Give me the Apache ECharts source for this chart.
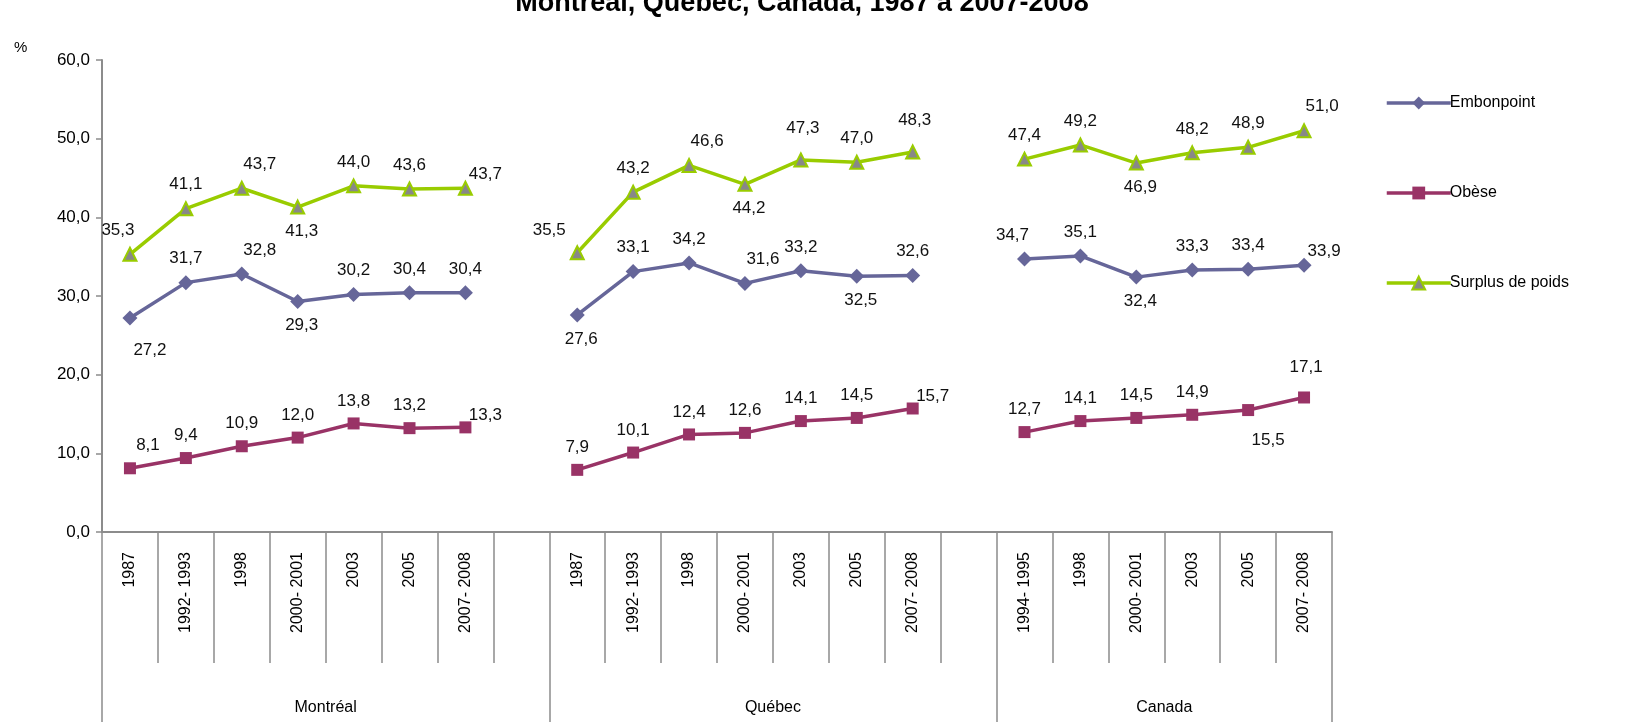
<!DOCTYPE html>
<html><head><meta charset="utf-8">
<script src="https://cdn.jsdelivr.net/npm/echarts@6/dist/echarts.min.js"></script>
<style>html,body{margin:0;padding:0;background:#fff}#c{width:1644px;height:722px}</style>
</head><body><div id="c"></div>
<script>
const categories = ['1987','1992- 1993','1998','2000- 2001','2003','2005','2007- 2008','',
  '1987','1992- 1993','1998','2000- 2001','2003','2005','2007- 2008','',
  '1994- 1995','1998','2000- 2001','2003','2005','2007- 2008'];
const groups = ['Montréal','Québec','Canada'];
const groupCenters = [4, 12, 19];
const groupBounds = [0, 8, 16, 22];
const yTicks = [0,10,20,30,40,50,60];

const embonpoint = [27.2,31.7,32.8,29.3,30.2,30.4,30.4,'-', 27.6,33.1,34.2,31.6,33.2,32.5,32.6,'-', 34.7,35.1,32.4,33.3,33.4,33.9];
const obese      = [8.1,9.4,10.9,12.0,13.8,13.2,13.3,'-', 7.9,10.1,12.4,12.6,14.1,14.5,15.7,'-', 12.7,14.1,14.5,14.9,15.5,17.1];
const surplus    = [35.3,41.1,43.7,41.3,44.0,43.6,43.7,'-', 35.5,43.2,46.6,44.2,47.3,47.0,48.3,'-', 47.4,49.2,46.9,48.2,48.9,51.0];

// label placement codes (style, separate from values)
const embLab = ['br','t','tr','b','t','t','t','', 'b','t','t','tr','t','b','t','', 'tl','t','b','t','t','r'];
const obeLab = ['tr','t','t','t','t','t','r','', 't','t','t','t','t','t','r','', 't','t','t','t','br','tt'];
const surLab = ['tl','t','tr','b','t','t','r','', 'tl2','t','tr','b','tt','t','tt','', 't','t','b','t','t','tr'];

const fmt = v => v.toFixed(1).replace('.', ',');
function labelFor(code){
  switch(code){
    case 't':  return {position:'top', offset:[0,0]};
    case 'tt': return {position:'top', offset:[2,-8]};
    case 'tr': return {position:'top', offset:[18,0]};
    case 'tl': return {position:'top', offset:[-12,0]};
    case 'tl2':return {position:'top', offset:[-28,2]};
    case 'b':  return {position:'bottom', offset:[4,0]};
    case 'br': return {position:'bottom', offset:[20,8]};
    case 'r':  return {position:'top', offset:[20,10]};
    default:   return {position:'top'};
  }
}
function build(vals, codes){
  return vals.map((v,i) => v === '-' ? '-' : {value:v, label:labelFor(codes[i])});
}
const lblStyle = {show:true, distance:8, color:'#111', fontSize:17, fontFamily:'Liberation Sans', formatter:p=>fmt(p.value)};

const chart = echarts.init(document.getElementById('c'), null, {renderer:'canvas'});
chart.setOption({
  animation:false,
  backgroundColor:'#fff',
  textStyle:{fontFamily:'Liberation Sans'},
  title:{text:'Montréal, Québec, Canada, 1987 à 2007-2008', left:797, textAlign:'center', top:-15,
    textStyle:{fontSize:27, fontWeight:'bold', color:'#000', fontFamily:'Liberation Sans'}},
  graphic:[{type:'text', left:14, top:40, style:{text:'%', fontSize:15, fill:'#000', font:'15px Liberation Sans'}}],
  legend:{orient:'vertical', left:1380, top:90, itemGap:74, itemWidth:64, itemHeight:16,
    lineStyle:{width:3.5},
    textStyle:{fontSize:16, color:'#000', fontFamily:'Liberation Sans', padding:[0,0,0,-6]},
    data:['Embonpoint','Obèse','Surplus de poids']},
  grid:{left:102, right:312, top:60, bottom:190},
  xAxis:[{
    type:'category', data:categories, boundaryGap:true,
    axisLine:{lineStyle:{color:'#8c8c8c', width:2}},
    axisTick:{show:true, interval:0, length:131, lineStyle:{color:'#8c8c8c', width:1.5}},
    axisLabel:{interval:0, rotate:90, margin:20, fontSize:16, color:'#000', fontFamily:'Liberation Sans'},
    splitLine:{show:false}
  },{
    type:'value', min:0, max:22, position:'bottom', gridIndex:0,
    axisLine:{show:false},
    axisTick:{show:true, customValues:groupBounds, length:200, lineStyle:{color:'#8c8c8c', width:1.5}},
    axisLabel:{show:true, customValues:groupCenters, margin:168, fontSize:16, color:'#000', fontFamily:'Liberation Sans',
      formatter:v => groups[groupCenters.indexOf(v)] || ''},
    splitLine:{show:false}
  }],
  yAxis:{type:'value', min:0, max:60, interval:10,
    axisLine:{show:true, lineStyle:{color:'#8c8c8c', width:2}},
    axisTick:{show:true, length:6, lineStyle:{color:'#8c8c8c', width:1.5}},
    axisLabel:{formatter:v=>fmt(v), fontSize:17, color:'#000', margin:12, fontFamily:'Liberation Sans',
      customValues:yTicks},
    splitLine:{show:false}},
  series:[
    {name:'Embonpoint', type:'line', xAxisIndex:0, data:build(embonpoint, embLab), symbol:'diamond', symbolSize:15,
      itemStyle:{color:'#666699'}, lineStyle:{color:'#666699', width:3.5}, label:lblStyle},
    {name:'Obèse', type:'line', xAxisIndex:0, data:build(obese, obeLab), symbol:'rect', symbolSize:12,
      itemStyle:{color:'#993366'}, lineStyle:{color:'#993366', width:3.5}, label:lblStyle},
    {name:'Surplus de poids', type:'line', xAxisIndex:0, data:build(surplus, surLab), symbol:'triangle', symbolSize:13,
      itemStyle:{color:'#888888', borderColor:'#99cc00', borderWidth:2}, lineStyle:{color:'#99cc00', width:3.5}, label:lblStyle}
  ]
});
</script></body></html>
